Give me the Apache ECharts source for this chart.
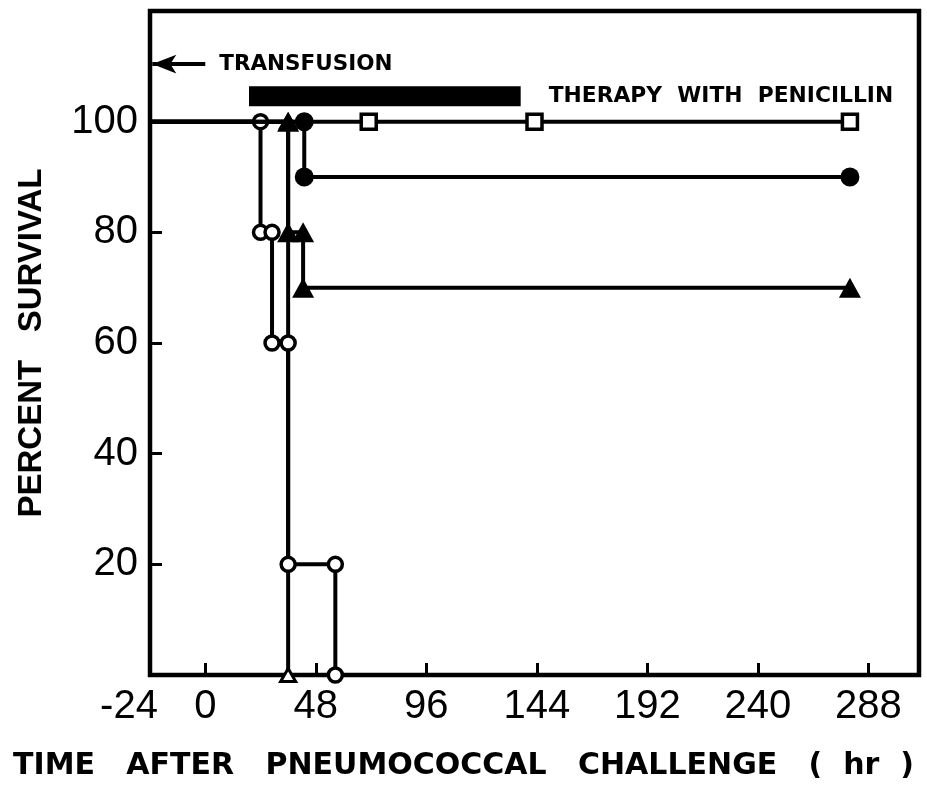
<!DOCTYPE html>
<html>
<head>
<meta charset="utf-8">
<script src="https://cdn.jsdelivr.net/npm/echarts@6/dist/echarts.min.js"></script>
<style>
  html, body { margin: 0; padding: 0; background: #fff; }
  #chart { width: 927px; height: 787px; }
</style>
</head>
<body>
<div id="chart"></div>
<script>
// ---- data ----
const xTickValues = [0, 48, 96, 144, 192, 240, 288];
const xLabelValues = [-24, 0, 48, 96, 144, 192, 240, 288];
const yTickValues = [20, 40, 60, 80, 100];

const squareHours = [-24, 71, 143, 280];
const squareSurvival = [100, 100, 100, 100];

const filledCircleHours = [-24, 43, 43, 280];
const filledCircleSurvival = [100, 100, 90, 90];

const filledTriangleHours = [-24, 36, 36, 42.5, 42.5, 280];
const filledTriangleSurvival = [100, 100, 80, 80, 70, 70];

const openTriangleHours = [-24, 36, 36];
const openTriangleSurvival = [100, 100, 0];

const openCircleHours = [-24, 24, 24, 29, 29, 36, 36, 56.5, 56.5];
const openCircleSurvival = [100, 100, 80, 80, 60, 60, 20, 20, 0];

const therapyHours = [19, 137];
const therapyBand = [102.8, 106.4];
const transfusionHours = [-23, 0];
const transfusionLevel = 110.4;

// ---- helpers ----
function build(hours, surv) {
  return hours.map((h, i) => i === 0 ? { value: [h, surv[i]], symbol: 'none' } : [h, surv[i]]);
}
const LW = 4;
function lineSeries(name, hours, surv, symbol, size, fill, border, z) {
  return {
    name: name,
    type: 'line',
    data: build(hours, surv),
    symbol: symbol,
    symbolSize: size,
    showAllSymbol: true,
    clip: false,
    z: z,
    lineStyle: { color: '#000', width: LW },
    itemStyle: { color: fill, borderColor: '#000', borderWidth: border },
    emphasis: { disabled: true }
  };
}

const chart = echarts.init(document.getElementById('chart'));

const openTri = lineSeries('openTriangle', openTriangleHours, openTriangleSurvival, 'triangle', [15, 13], '#fff', 3, 2);
const filledTri = lineSeries('filledTriangle', filledTriangleHours, filledTriangleSurvival, 'triangle', [22, 20], '#000', 0, 3);
const openCirc = lineSeries('openCircle', openCircleHours, openCircleSurvival, 'circle', 14, '#fff', 3.5, 4);
const filledCirc = lineSeries('filledCircle', filledCircleHours, filledCircleSurvival, 'circle', 19, '#000', 0, 5);
const squares = lineSeries('square', squareHours, squareSurvival, 'rect', 15, '#fff', 3.5, 6);

squares.markArea = {
  silent: true,
  itemStyle: { color: '#000' },
  label: {
    show: true,
    position: 'right',
    distance: 28,
    formatter: 'THERAPY  WITH  PENICILLIN',
    color: '#000',
    fontFamily: 'DejaVu Sans',
    fontWeight: 'bold',
    fontSize: 21.8
  },
  data: [[
    { xAxis: therapyHours[0], yAxis: therapyBand[0] },
    { xAxis: therapyHours[1], yAxis: therapyBand[1] }
  ]]
};
squares.markLine = {
  silent: true,
  animation: false,
  lineStyle: { color: '#000', width: 4, type: 'solid' },
  label: {
    show: true,
    position: 'end',
    distance: 14,
    formatter: 'TRANSFUSION',
    color: '#000',
    fontFamily: 'DejaVu Sans',
    fontWeight: 'bold',
    fontSize: 21.5
  },
  data: [[
    { coord: [transfusionHours[0], transfusionLevel], symbol: 'arrow', symbolSize: [14, 24] },
    { coord: [transfusionHours[1], transfusionLevel], symbol: 'none' }
  ]]
};

chart.setOption({
  animation: false,
  backgroundColor: '#fff',
  grid: {
    left: 150, right: 8, top: 11, bottom: 112,
    show: true, borderColor: '#000', borderWidth: 4.5, backgroundColor: 'transparent'
  },
  xAxis: {
    type: 'value',
    min: -24, max: 310,
    splitLine: { show: false },
    axisLine: { show: false, onZero: false },
    axisTick: {
      show: true, inside: true, length: 12,
      customValues: xTickValues,
      lineStyle: { color: '#000', width: 3 }
    },
    axisLabel: {
      show: true,
      customValues: xLabelValues,
      margin: 12,
      color: '#000',
      fontFamily: 'Liberation Sans',
      fontSize: 40,
      formatter: v => v === -24 ? '{s|-24}' : String(v),
      rich: { s: { fontFamily: 'Liberation Sans', fontSize: 40, color: '#000', padding: [0, 42, 0, 0] } }
    }
  },
  yAxis: {
    type: 'value',
    min: 0, max: 120,
    splitLine: { show: false },
    axisLine: { show: false, onZero: false },
    axisTick: {
      show: true, inside: true, length: 12,
      customValues: yTickValues,
      lineStyle: { color: '#000', width: 3 }
    },
    axisLabel: {
      show: true,
      customValues: yTickValues,
      margin: 12,
      color: '#000',
      fontFamily: 'Liberation Sans',
      fontSize: 40
    },
    name: 'PERCENT   SURVIVAL',
    nameLocation: 'middle',
    nameRotate: 90,
    nameGap: 102,
    nameTextStyle: { color: '#000', fontFamily: 'Liberation Sans', fontWeight: 'bold', fontSize: 33 }
  },
  graphic: [{
    type: 'text',
    left: 'center',
    bottom: 6,
    style: {
      text: 'TIME   AFTER   PNEUMOCOCCAL   CHALLENGE   (  hr  )',
      fill: '#000',
      font: 'bold 30px "DejaVu Sans"'
    }
  }],
  series: [openTri, filledTri, openCirc, filledCirc, squares]
});
</script>
</body>
</html>
